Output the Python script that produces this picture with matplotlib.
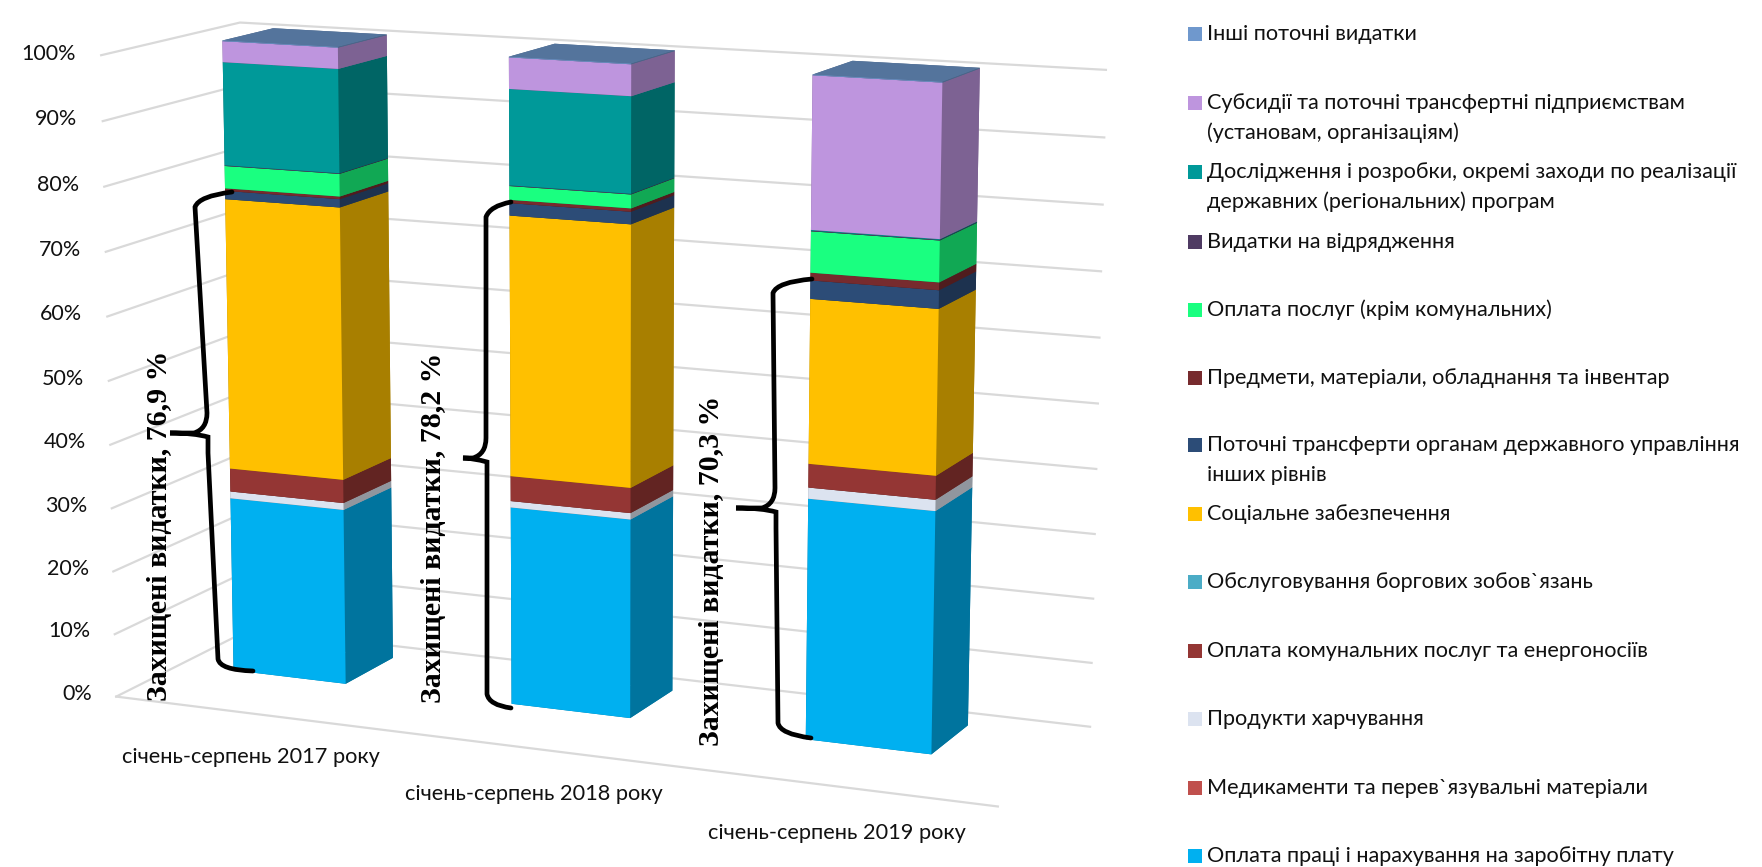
import numpy as np
import matplotlib
matplotlib.use("Agg")
import matplotlib.pyplot as plt
from matplotlib.patches import PathPatch, Rectangle
from matplotlib.path import Path
from matplotlib.transforms import IdentityTransform
from mpl_toolkits.mplot3d import proj3d

W, H = 1762, 867
plt.rcParams['font.family'] = ['Lato', 'Noto Sans', 'DejaVu Sans']

# categories and values, per cent of the total
periods = ["січень-серпень 2017 року", "січень-серпень 2018 року", "січень-серпень 2019 року"]
percent_ticks = [0, 10, 20, 30, 40, 50, 60, 70, 80, 90, 100]

# bottom of the stack first
wages = [28.0, 31.1, 37.0]
medicine = [0, 0, 0]
food = [1.1, 1.0, 1.7]
utilities = [3.7, 3.9, 3.6]
debt = [0, 0, 0]
social = [42.8, 40.25, 24.8]
transfers = [1.3, 1.9, 2.75]
materials = [0.4, 0.5, 1.15]
services = [3.5, 2.1, 6.15]
travel = [0.1, 0.1, 0.1]
research = [16.05, 14.6, 0.1]
subsidies = [3.25, 4.75, 22.75]
other = [0.1, 0.1, 0.1]

series = [wages, medicine, food, utilities, debt, social, transfers, materials,
          services, travel, research, subsidies, other]
colors = ['#00B0F0', '#C0504D', '#DCE3F0', '#943634', '#4BACC6', '#FFC000', '#2C4C77',
          '#772B2E', '#1AFF80', '#4F3B63', '#009999', '#BE95DE', '#6F98CD']
labels = [["Оплата праці і нарахування на заробітну плату"],
          ["Медикаменти та перев`язувальні матеріали"],
          ["Продукти харчування"],
          ["Оплата комунальних послуг та енергоносіїв"],
          ["Обслуговування боргових зобов`язань"],
          ["Соціальне забезпечення"],
          ["Поточні трансферти органам державного управління", "інших рівнів"],
          ["Предмети, матеріали, обладнання та інвентар"],
          ["Оплата послуг (крім комунальних)"],
          ["Видатки на відрядження"],
          ["Дослідження і розробки, окремі заходи по реалізації", "державних (регіональних) програм"],
          ["Субсидії та поточні трансфертні підприємствам", "(установам, організаціям)"],
          ["Інші поточні видатки"]]
legend_y = [856, 788, 719, 651, 582, 514, 445, 378, 310, 242, 172, 103, 34]
protected = ["Захищені видатки, 76,9 %", "Захищені видатки, 78,2 %", "Захищені видатки, 70,3 %"]

xmin, xmax = -0.40, 2.56
bar_w = 0.41
depth0, depth1 = 0.47, 0.85
label_shift = [0.083, 0.065, 0.06]
grid_col = '#D9D9D9'


def darker(col, k):
    r = np.array(matplotlib.colors.to_rgb(col)) * k
    return tuple(r)


fig = plt.figure(figsize=(W / 100, H / 100), dpi=100)
side = 1182
ax = fig.add_axes([-9.8 / W, -132 / H, side / W, side / H], projection='3d', computed_zorder=False)
ax.set_proj_type('persp', focal_length=0.68)
ax.view_init(elev=11.8, azim=-66.5)
ax.set_xlim(xmin, xmax)
ax.set_ylim(0, 1)
ax.set_zlim(0, 100)
ax.set_box_aspect((812, 250, 566), zoom=0.982)
ax.set_axis_off()
ax.patch.set_alpha(0)


def label3d(x, y, z, s, **kw):
    # project by hand so the text sits in plain 2D axes coordinates
    px, py, _ = proj3d.proj_transform(x, y, z, ax.get_proj())
    ax.text2D(px, py, s, transform=ax.transData, **kw)


# gridlines run along the side wall and then the back wall
for z in percent_ticks:
    ax.plot([xmin, xmin, xmax], [0, 1, 1], [z, z, z], color=grid_col, lw=1.6, zorder=1)
    label3d(xmin - 0.09, 0, z, f"{z}%", ha='right', va='center', fontsize=15.5, color='#111111')
ax.plot([xmin, xmax], [0, 0], [0, 0], color=grid_col, lw=1.6, zorder=1)

for i, period in enumerate(periods):
    bottom = 0
    for vals, col in zip(series, colors):
        v = vals[i]
        if v <= 0:
            continue
        dark = darker(col, 0.66)
        top_col = darker(col, 0.76)
        # faces: bottom, top, front, back, left, right
        ax.bar3d(i - bar_w / 2, depth0, bottom, bar_w, depth1 - depth0, v,
                 color=[dark, top_col, col, dark, dark, dark], shade=False,
                 linewidth=0, zorder=3)
        bottom += v
    label3d(i + label_shift[i], 0, -7, period, ha='center', va='center', fontsize=15.7, color='#111111')

# legend, drawn by hand so the wrapped entries keep the original spacing
for lines, y, col in zip(labels, legend_y, colors):
    fig.add_artist(Rectangle((1188 / W, 1 - (y + 7) / H), 14 / W, 14 / H, color=col,
                             transform=fig.transFigure, lw=0))
    for k, line in enumerate(lines):
        fig.text(1207 / W, 1 - (y + k * 30) / H, line, ha='left', va='center',
                 fontsize=15.6, color='#111111')


def brace(top_end, top_corner, tip, mid_x, bot_corner, bot_end):
    # curly bracket in pixels from the top left of the image
    pts = [top_end, (top_corner[0] + 4, top_corner[1] - 3), (top_corner[0], top_corner[1] + 8),
           (mid_x - 1, tip[1] - 20), (mid_x - 1, tip[1] - 4), (mid_x - 14, tip[1]), tip,
           (mid_x - 14, tip[1]), (mid_x, tip[1] + 4), (mid_x, tip[1] + 20),
           (bot_corner[0], bot_corner[1] - 8), (bot_corner[0] + 2, bot_corner[1] + 3), bot_end]
    codes = [Path.MOVETO, Path.CURVE3, Path.CURVE3, Path.LINETO, Path.CURVE3, Path.CURVE3, Path.LINETO,
             Path.CURVE3, Path.CURVE3, Path.LINETO, Path.LINETO, Path.CURVE3, Path.CURVE3]
    verts = [(x, H - y) for x, y in pts]
    fig.add_artist(PathPatch(Path(verts, codes), fc='none', ec='black', lw=3.4,
                             transform=IdentityTransform(), capstyle='round'))


brace((232, 192), (195, 199), (170, 433), 208, (218, 667), (253, 671))
brace((511, 202), (486, 209), (463, 458), 487, (487, 702), (511, 708))
brace((812, 279), (773, 285), (736, 508), 776, (778, 731), (811, 738))

for text, x, y in zip(protected, [159, 434, 712], [526, 528, 571]):
    fig.text(x / W, 1 - y / H, text, rotation=90, ha='center', va='center', fontsize=21.5,
             fontweight='bold', family=['Liberation Serif', 'DejaVu Serif'], color='black')

fig.savefig('out.png', dpi=100)
